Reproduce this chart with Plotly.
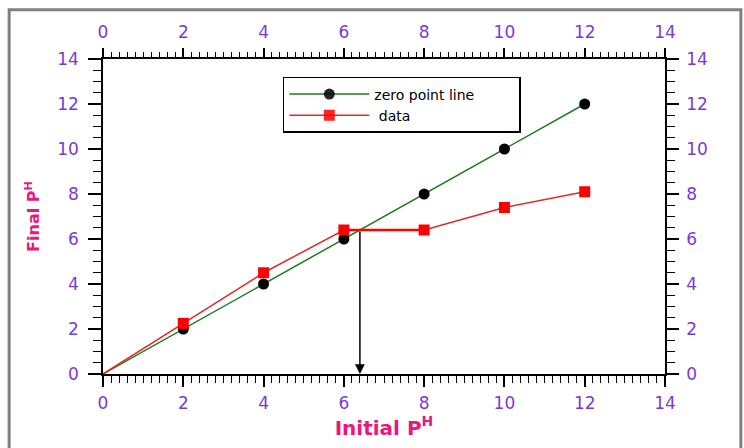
import plotly.graph_objects as go

# Data
x_vals = [0, 2, 4, 6, 8, 10, 12]
zero_line = [0, 2, 4, 6, 8, 10, 12]
data_vals = [0, 2.25, 4.5, 6.4, 6.4, 7.4, 8.1]
pzc = 6.4
tick_vals = [0, 2, 4, 6, 8, 10, 12, 14]

PURPLE = "#7a3ad6"
PINK = "#e8187c"
FONT = "DejaVu Sans"
PAD = "\u00a0" * 9

fig = go.Figure()
fig.add_trace(go.Scatter(
    x=x_vals, y=zero_line, name="zero point line" + PAD, mode="lines+markers",
    line=dict(color="#1f7a1f", width=1.5),
    marker=dict(color="black", size=11, symbol="circle",
                opacity=[0, 1, 1, 1, 1, 1, 1]),
))
fig.add_trace(go.Scatter(
    x=x_vals, y=data_vals, name="\u00a0data", mode="lines+markers",
    line=dict(color="#e02a2a", width=1.5),
    marker=dict(color="#ff0000", size=11, symbol="square",
                opacity=[0, 1, 1, 1, 1, 1, 1]),
))
# thicker plateau segment
fig.add_trace(go.Scatter(
    x=x_vals[3:5], y=data_vals[3:5], mode="lines", showlegend=False,
    line=dict(color="#ff0000", width=2.5), hoverinfo="skip",
))
# invisible trace for secondary axes
fig.add_trace(go.Scatter(x=[0, 14], y=[0, 14], xaxis="x2", yaxis="y2",
                         mode="markers", marker=dict(opacity=0),
                         showlegend=False, hoverinfo="skip"))

fig.add_annotation(x=pzc, y=0, ax=pzc, ay=pzc, xref="x", yref="y",
                   axref="x", ayref="y", showarrow=True, arrowhead=2,
                   arrowsize=1.3, arrowwidth=1.5, arrowcolor="black", text="")

axis_common = dict(range=[0, 14], tickvals=tick_vals, showgrid=False,
                   zeroline=False, showline=True, linecolor="black",
                   linewidth=1.5, ticks="outside", tickcolor="black",
                   tickwidth=1.5,
                   tickfont=dict(family=FONT, size=17, color=PURPLE))

fig.update_layout(
    width=744, height=448,
    margin=dict(l=103, r=79, t=59, b=74),
    paper_bgcolor="white", plot_bgcolor="white",
    font=dict(family=FONT),
    xaxis=dict(**axis_common, ticklen=11, ticklabelstandoff=2,
               minor=dict(dtick=0.2, ticks="outside", ticklen=7,
                          tickcolor="black", tickwidth=1),
               title=dict(text="Initial P<sup>H</sup>", standoff=6,
                          font=dict(family=FONT, size=20, color=PINK,
                                    weight="bold"))),
    xaxis2=dict(**axis_common, overlaying="x", side="top", anchor="y2",
                ticklen=9, ticklabelstandoff=3,
                minor=dict(dtick=0.2, ticks="outside", ticklen=5,
                           tickcolor="black", tickwidth=1)),
    yaxis=dict(**axis_common, ticklen=13, ticklabelstandoff=6,
               minor=dict(dtick=0.5, ticks="outside", ticklen=8,
                          tickcolor="black", tickwidth=1),
               title=dict(text="Final P<sup>H</sup>", standoff=14,
                          font=dict(family=FONT, size=16, color=PINK,
                                    weight="bold"))),
    yaxis2=dict(**axis_common, overlaying="y", side="right", anchor="x2",
                ticklen=12, ticklabelstandoff=4,
                minor=dict(dtick=0.5, ticks="outside", ticklen=8,
                           tickcolor="black", tickwidth=1)),
    legend=dict(x=0.32, y=0.943, xanchor="left", yanchor="top",
                bgcolor="white", bordercolor="black", borderwidth=1.5,
                font=dict(family=FONT, size=14, color="black"),
                tracegroupgap=0, itemwidth=80),
    showlegend=True,
)

fig.add_shape(type="rect", xref="paper", yref="paper",
              x0=-0.167, x1=1.135, y0=-0.4, y1=1.156,
              line=dict(color="#808080", width=3), layer="below")

fig.write_html("out.html")
